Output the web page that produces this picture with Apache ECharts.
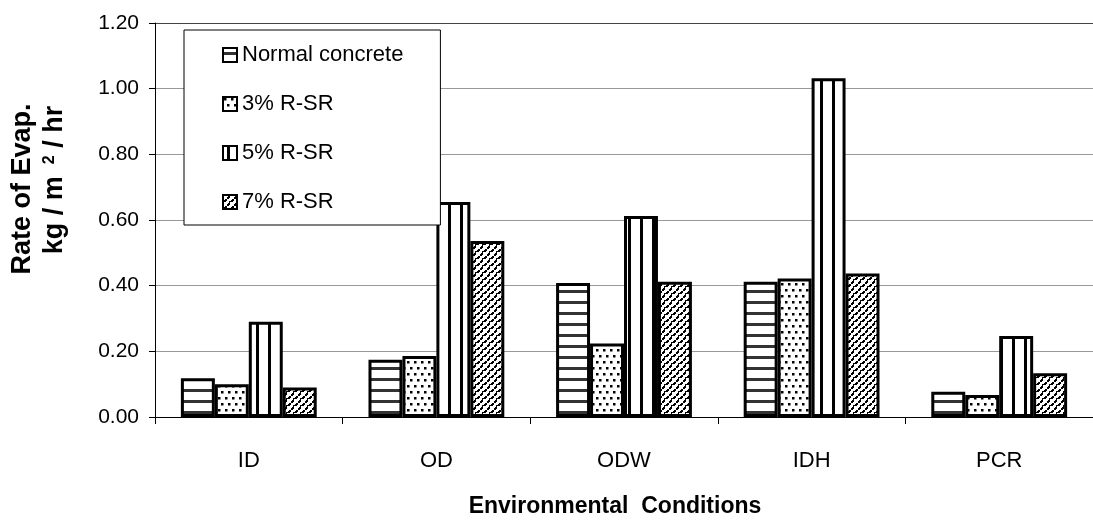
<!DOCTYPE html>
<html>
<head>
<meta charset="utf-8">
<script src="https://cdn.jsdelivr.net/npm/echarts@6/dist/echarts.min.js"></script>
<style>
html,body{margin:0;padding:0;background:#fff;}
#chart{width:1093px;height:520px;}
</style>
</head>
<body>
<div id="chart"></div>
<script>
// ---- data ----
const categories = ['ID', 'OD', 'ODW', 'IDH', 'PCR'];
const seriesNames = ['Normal concrete', '3% R-SR', '5% R-SR', '7% R-SR'];
const normalConcrete = [0.118, 0.174, 0.408, 0.412, 0.077];
const rsr3 = [0.100, 0.186, 0.224, 0.422, 0.067];
const rsr5 = [0.290, 0.655, 0.612, 1.032, 0.247];
const rsr7 = [0.090, 0.536, 0.412, 0.437, 0.133];
const yMin = 0, yMax = 1.2, yStep = 0.2;

// ---- fill patterns ----
function tile(w, h, draw) {
  const c = document.createElement('canvas');
  c.width = w; c.height = h;
  const ctx = c.getContext('2d');
  ctx.fillStyle = '#fff';
  ctx.fillRect(0, 0, w, h);
  draw(ctx);
  return c;
}
const patHoriz = tile(11, 11, ctx => { ctx.fillStyle = '#333'; ctx.fillRect(0, 4, 11, 3); });
const patDots = tile(14, 12, ctx => {
  ctx.fillStyle = '#000';
  [[1,1],[8,1],[4,7],[11,7]].forEach(p => ctx.fillRect(p[0], p[1], 2.5, 2.5));
});
const patVert = tile(12, 12, ctx => { ctx.fillStyle = '#000'; ctx.fillRect(4, 0, 3, 12); });
const patDiag = tile(7, 7, ctx => {
  ctx.fillStyle = '#000';
  for (let i = 0; i < 7; i++) {
    if (i === 3) continue;
    ctx.fillRect(i, 6 - i, 2, 2);
  }
  ctx.fillRect(6, 6, 1, 1);
});
const patterns = [patHoriz, patDots, patVert, patDiag];
const values = [normalConcrete, rsr3, rsr5, rsr7];

const FONT = "'Liberation Sans', Arial, Helvetica, sans-serif";
const chart = echarts.init(document.getElementById('chart'), null, {renderer: 'canvas'});

const option = {
  animation: false,
  backgroundColor: '#fff',
  textStyle: {fontFamily: FONT, color: '#000'},
  grid: {left: 155, right: -4, top: 23, bottom: 103, containLabel: false},
  legend: {
    orient: 'vertical',
    left: 184, top: 30,
    padding: [14, 37, 12, 38],
    itemGap: 27,
    itemWidth: 14, itemHeight: 14,
    icon: 'rect',
    backgroundColor: '#fff',
    borderColor: '#000',
    borderWidth: 1,
    textStyle: {fontFamily: FONT, fontSize: 22, color: '#000'},
    data: seriesNames
  },
  xAxis: {
    type: 'category',
    data: categories,
    axisLine: {lineStyle: {color: '#000', width: 1}},
    axisTick: {show: true, length: 7, lineStyle: {color: '#000'}},
    axisLabel: {fontFamily: FONT, fontSize: 22, color: '#000', margin: 33}
  },
  yAxis: {
    type: 'value',
    min: yMin, max: yMax, interval: yStep,
    axisLine: {show: true, lineStyle: {color: '#000', width: 1}},
    axisTick: {show: true, length: 6, lineStyle: {color: '#000'}},
    axisLabel: {fontFamily: FONT, fontSize: 21, color: '#000', margin: 16,
      formatter: v => v.toFixed(2)},
    splitLine: {show: true, lineStyle: {color: ['#999', '#999', '#999', '#999', '#999', '#999', '#444'], width: 1}}
  },
  graphic: [
    {type: 'text', x: 23, y: 189, rotation: Math.PI / 2,
      style: {text: 'Rate of Evap.', font: "bold 27px " + FONT, fill: '#000', textAlign: 'center', textVerticalAlign: 'middle'}},
    {type: 'text', x: 55, y: 180, rotation: Math.PI / 2,
      style: {text: '{b|kg / m }{s| 2}{b| / hr}', textAlign: 'center', textVerticalAlign: 'middle',
        rich: {
          b: {fontFamily: FONT, fontWeight: 'bold', fontSize: 27, fill: '#000', color: '#000'},
          s: {fontFamily: FONT, fontWeight: 'bold', fontSize: 16, fill: '#000', color: '#000', verticalAlign: 'top'}
        }}},
    {type: 'text', x: 615, y: 507,
      style: {text: 'Environmental  Conditions', font: "bold 23px " + FONT, fill: '#000', textAlign: 'center', textVerticalAlign: 'middle'}}
  ],
  series: seriesNames.map((name, i) => ({
    name: name,
    type: 'bar',
    data: values[i],
    barGap: '0%',
    barCategoryGap: '27.6%',
    itemStyle: {color: {image: patterns[i], repeat: 'repeat'}, borderColor: '#000', borderWidth: 3}
  }))
};
chart.setOption(option);
</script>
</body>
</html>
